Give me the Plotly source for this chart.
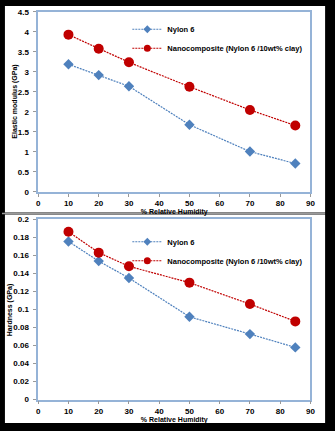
import plotly.graph_objects as go

rh = [10, 20, 30, 50, 70, 85]
modulus_nylon = [3.19, 2.92, 2.64, 1.68, 1.01, 0.71]
modulus_nano = [3.93, 3.58, 3.24, 2.63, 2.05, 1.66]
hardness_nylon = [0.1755, 0.1537, 0.1349, 0.0919, 0.0727, 0.0579]
hardness_nano = [0.1863, 0.1631, 0.1479, 0.1298, 0.106, 0.0868]

name_nylon = "Nylon 6"
name_nano = "Nanocomposite (Nylon 6 /10wt% clay)"
x_title = "% Relative Humidity"
y_title_top = "Elastic modulus (GPa)"
y_title_bot = "Hardness (GPa)"

W, H = 335, 431
BLUE = "#4f81bd"
RED = "#c00000"
FRAME = "#95b3d7"
FONT = "Liberation Sans, Arial"
DASH = "2px,1px"

def py(px):
    return 1 - px / H

fig = go.Figure()

def add_pair(xa, ya, ny, nc, legend):
    fig.add_trace(go.Scatter(x=rh, y=ny, name=name_nylon, mode="lines+markers",
                             xaxis=xa, yaxis=ya, showlegend=False,
                             line=dict(color=BLUE, width=1.2, dash=DASH),
                             marker=dict(symbol="diamond", size=8, color=BLUE)))
    fig.add_trace(go.Scatter(x=rh, y=nc, name=name_nano, mode="lines+markers",
                             xaxis=xa, yaxis=ya, showlegend=False,
                             line=dict(color=RED, width=1.2, dash=DASH),
                             marker=dict(symbol="circle", size=10, color=RED)))
    # legend entries (smaller symbols, as in the reference legend)
    fig.add_trace(go.Scatter(x=[None], y=[None], name=name_nylon, mode="lines+markers",
                             xaxis=xa, yaxis=ya, legend=legend,
                             line=dict(color=BLUE, width=1.2, dash=DASH),
                             marker=dict(symbol="diamond", size=6, color=BLUE)))
    fig.add_trace(go.Scatter(x=[None], y=[None], name=name_nano, mode="lines+markers",
                             xaxis=xa, yaxis=ya, legend=legend,
                             line=dict(color=RED, width=1.2, dash=DASH),
                             marker=dict(symbol="circle", size=7, color=RED)))

add_pair("x", "y", modulus_nylon, modulus_nano, "legend")
add_pair("x2", "y2", hardness_nylon, hardness_nano, "legend2")

tickfont = dict(family=FONT, size=8, color="#000", weight="bold")
titlefont = dict(family=FONT, size=7, color="#000", weight="bold")

def xaxis(anchor):
    return dict(domain=[37 / W, 315 / W], range=[0, 90], dtick=10, anchor=anchor,
                showline=True, mirror=True, linecolor=FRAME, linewidth=1.5,
                ticks="outside", ticklen=3, tickcolor="#999", showgrid=False,
                zeroline=False, tickfont=tickfont,
                title=dict(text=x_title, font=titlefont, standoff=1))

def yaxis(anchor, dom, rng, dt):
    return dict(domain=dom, range=rng, dtick=dt, anchor=anchor,
                showline=True, mirror=True, linecolor=FRAME, linewidth=1.5,
                ticks="outside", ticklen=3, tickcolor="#999", showgrid=False,
                zeroline=False, tickfont=tickfont, ticklabelstandoff=3)

legend_common = dict(font=dict(family=FONT, size=7.5, color="#000", weight="bold"),
                     bgcolor="rgba(0,0,0,0)", itemwidth=30, xanchor="left",
                     yanchor="top", tracegroupgap=0)

fig.update_layout(
    width=W, height=H, margin=dict(l=0, r=0, t=0, b=0),
    paper_bgcolor="#000000", plot_bgcolor="#ffffff",
    xaxis=xaxis("y"),
    yaxis=yaxis("x", [py(192), py(8)], [0, 4.5], 0.5),
    xaxis2=xaxis("y2"),
    yaxis2=yaxis("x2", [py(404), py(220)], [0, 0.2], 0.02),
    legend=dict(x=128 / W, y=py(11), **legend_common),
    legend2=dict(x=128 / W, y=py(228), **legend_common),
    annotations=[
        dict(text=y_title_top, xref="paper", yref="y domain", x=13 / W, y=0.5,
             textangle=-90, showarrow=False, font=titlefont,
             xanchor="center", yanchor="middle"),
        dict(text=y_title_bot, xref="paper", yref="y2 domain", x=9 / W, y=0.5,
             textangle=-90, showarrow=False, font=titlefont,
             xanchor="center", yanchor="middle"),
    ],
    shapes=[
        dict(type="rect", xref="paper", yref="paper", x0=3 / W, x1=330 / W,
             y0=py(213), y1=py(2), fillcolor="#ffffff", line=dict(width=0), layer="below"),
        dict(type="rect", xref="paper", yref="paper", x0=3 / W, x1=330 / W,
             y0=py(428), y1=py(215), fillcolor="#ffffff", line=dict(width=0), layer="below"),
        dict(type="line", xref="paper", yref="paper", x0=0, x1=330 / W,
             y0=py(214), y1=py(214), line=dict(color="#9a9a9a", width=1.5)),
    ],
)

fig.write_html("out.html")
